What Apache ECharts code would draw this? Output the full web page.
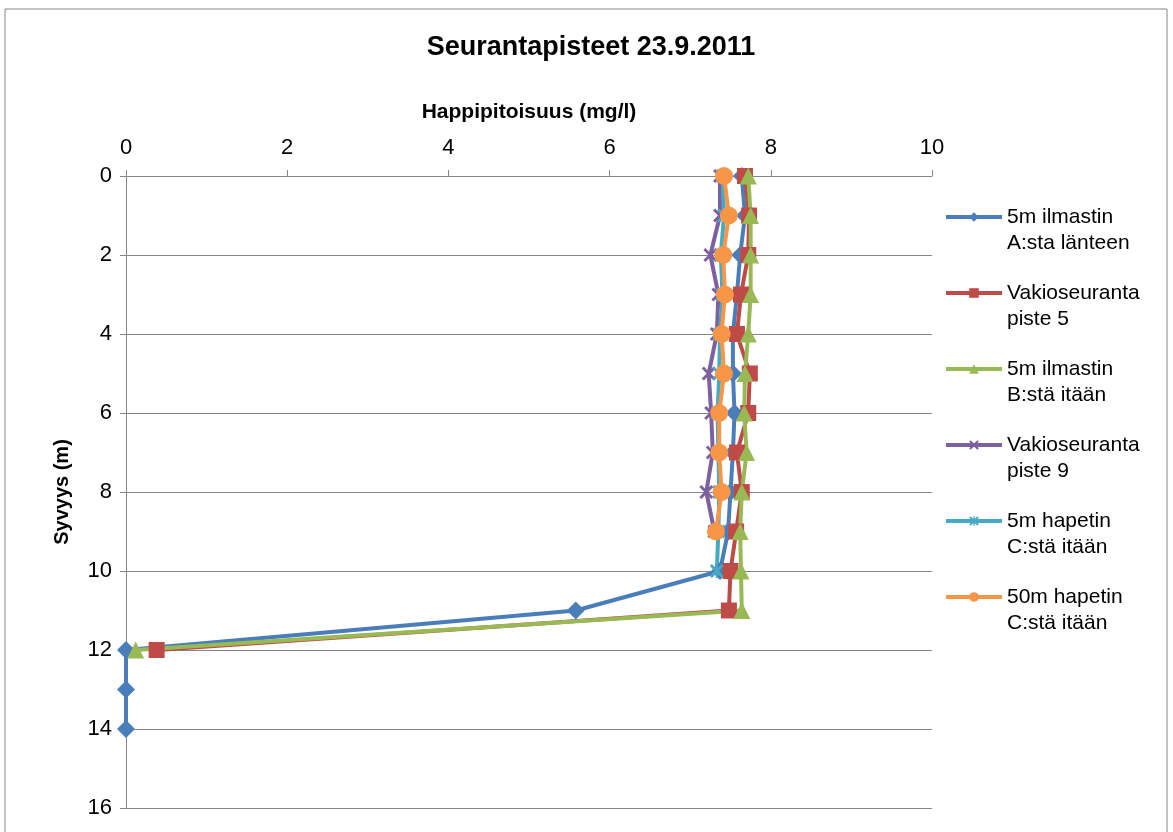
<!DOCTYPE html>
<html>
<head>
<meta charset="utf-8">
<title>Seurantapisteet 23.9.2011</title>
<style>
    html, body { margin: 0; padding: 0; background: #fff; }
    #chart { width: 1173px; height: 832px; }
</style>
</head>
<body>
<div id="chart"></div>
<script src="https://cdn.jsdelivr.net/npm/echarts@6/dist/echarts.min.js"></script>
<script>
// depth (m) and oxygen (mg/l) per measuring point
var depthA = [0, 1, 2, 3, 4, 5, 6, 7, 8, 9, 10, 11, 12, 13, 14]
var oxyA = [7.64, 7.68, 7.62, 7.58, 7.53, 7.53, 7.55, 7.53, 7.5, 7.47, 7.37, 5.58, 0, 0, 0]

var depthP5 = [0, 1, 2, 3, 4, 5, 6, 7, 8, 9, 10, 11, 12]
var oxyP5 = [7.68, 7.73, 7.72, 7.63, 7.58, 7.74, 7.72, 7.58, 7.64, 7.57, 7.5, 7.48, 0.38]

var depthB = [0, 1, 2, 3, 4, 5, 6, 7, 8, 9, 10, 11, 12]
var oxyB = [7.72, 7.75, 7.75, 7.75, 7.72, 7.68, 7.67, 7.7, 7.64, 7.62, 7.63, 7.64, 0.12]

var depthP9 = [0, 1, 2, 3, 4, 5, 6, 7, 8, 9]
var oxyP9 = [7.37, 7.37, 7.25, 7.35, 7.33, 7.23, 7.26, 7.28, 7.2, 7.3]

var depthC5 = [0, 1, 2, 3, 4, 5, 6, 7, 8, 9, 10]
var oxyC5 = [7.4, 7.42, 7.38, 7.4, 7.37, 7.36, 7.34, 7.35, 7.36, 7.35, 7.33]

var depthC50 = [0, 1, 2, 3, 4, 5, 6, 7, 8, 9]
var oxyC50 = [7.42, 7.48, 7.41, 7.43, 7.39, 7.42, 7.36, 7.36, 7.39, 7.32]

var xTicks = [0, 2, 4, 6, 8, 10]
var yTicks = [0, 2, 4, 6, 8, 10, 12, 14, 16]

function pairs(xs, ys) {
    return xs.map(function (x, i) { return [x, ys[i]] })
}

var crossPath = 'path://M0,1.5L1.5,0L5,3.5L8.5,0L10,1.5L6.5,5L10,8.5L8.5,10L5,6.5L1.5,10L0,8.5L3.5,5Z'
var starPath = 'path://M0,1.5L1.5,0L5,3.5L8.5,0L10,1.5L6.5,5L10,8.5L8.5,10L5,6.5L1.5,10L0,8.5L3.5,5Z' +
    'M4.3,0L5.7,0L5.7,10L4.3,10Z'

var chart = echarts.init(document.getElementById('chart'))

function makeSeries(name, color, symbol, size, xs, ys) {
    return {
        name: name,
        type: 'line',
        data: pairs(xs, ys),
        symbol: symbol,
        symbolSize: size,
        showAllSymbol: true,
        lineStyle: { width: 4, color: color },
        itemStyle: { color: color },
        emphasis: { disabled: true }
    }
}

var option = {
    animation: false,
    textStyle: { fontFamily: 'Liberation Sans, Arial, sans-serif' },
    title: {
        text: 'Seurantapisteet 23.9.2011',
        left: 586,
        textAlign: 'center',
        top: 29,
        textStyle: { fontSize: 27, fontWeight: 'bold', color: '#000' }
    },
    graphic: [{
        type: 'rect',
        shape: { x: 5, y: 9, width: 1162, height: 830 },
        style: { fill: 'none', stroke: '#868686', lineWidth: 1 },
        silent: true
    }, {
        type: 'text',
        x: 529,
        y: 112,
        style: {
            text: 'Happipitoisuus (mg/l)',
            font: 'bold 21px Liberation Sans, Arial',
            fill: '#000',
            align: 'center',
            verticalAlign: 'middle'
        }
    }],
    legend: {
        orient: 'vertical',
        left: 939,
        top: 173,
        itemWidth: 56,
        itemHeight: 12,
        itemGap: -2,
        lineStyle: { width: 4 },
        // leading blank line keeps the first text line level with the icon
        formatter: function (name) { return '\n' + name },
        textStyle: { fontSize: 21, lineHeight: 26, color: '#000' }
    },
    grid: { left: 126, right: 241, top: 176, bottom: 24 },
    xAxis: {
        type: 'value',
        position: 'top',
        min: xTicks[0],
        max: xTicks[xTicks.length - 1],
        interval: 2,
        axisLine: { show: true, lineStyle: { color: '#868686', width: 1 } },
        axisTick: { show: true, length: 6, lineStyle: { color: '#868686' } },
        axisLabel: { fontSize: 22, color: '#000', margin: 17 },
        splitLine: { show: false }
    },
    yAxis: {
        type: 'value',
        inverse: true,
        min: yTicks[0],
        max: yTicks[yTicks.length - 1],
        interval: 2,
        name: 'Syvyys (m)',
        nameLocation: 'middle',
        nameGap: 54,
        nameRotate: 90,
        nameTextStyle: { fontSize: 20, fontWeight: 'bold', color: '#000' },
        axisLine: { show: true, lineStyle: { color: '#868686', width: 1 } },
        axisTick: { show: true, length: 6, lineStyle: { color: '#868686' } },
        axisLabel: { fontSize: 22, color: '#000', margin: 14 },
        splitLine: { show: true, lineStyle: { color: '#868686', width: 1 } }
    },
    series: [
        makeSeries('5m ilmastin\nA:sta länteen', '#4A7EBB', 'diamond', 18, oxyA, depthA),
        makeSeries('Vakioseuranta\npiste 5', '#BE4B48', 'rect', 16, oxyP5, depthP5),
        makeSeries('5m ilmastin\nB:stä itään', '#98B954', 'triangle', 17, oxyB, depthB),
        makeSeries('Vakioseuranta\npiste 9', '#7D60A0', crossPath, 14, oxyP9, depthP9),
        makeSeries('5m hapetin\nC:stä itään', '#46AAC5', starPath, 14, oxyC5, depthC5),
        makeSeries('50m hapetin\nC:stä itään', '#F79646', 'circle', 18, oxyC50, depthC50)
    ]
}
chart.setOption(option)
</script>
</body>
</html>
